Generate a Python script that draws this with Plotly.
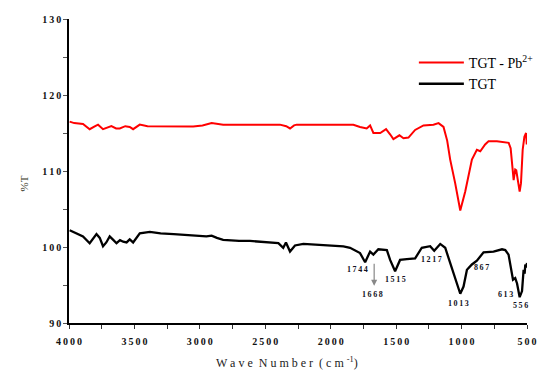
import plotly.graph_objects as go

# ---- data ----
pb_wn = [3995, 3960, 3893, 3842, 3800, 3778, 3740, 3676, 3640, 3612, 3570, 3536, 3510, 3459,
         3400, 3255, 3150, 3051, 2980, 2910, 2822, 2700, 2500, 2388, 2340, 2311, 2280, 2260,
         2100, 1900, 1827, 1776, 1725, 1699, 1674, 1622, 1577, 1545, 1521, 1475, 1444, 1406,
         1355, 1291, 1215, 1176, 1138, 1110, 1087, 1049, 1010, 972, 940, 921, 883, 857, 820,
         794, 730, 679, 640, 625, 615, 602, 590, 582, 572, 556, 546, 533, 520, 507, 502]
pb_t = [116.5, 116.3, 116.2, 115.5, 115.9, 116.1, 115.5, 115.9, 115.6, 115.6, 115.9, 115.8, 115.5, 116.1,
        115.9, 115.85, 115.8, 115.85, 116.0, 116.3, 116.1, 116.1, 116.1, 116.1, 115.9, 115.6, 116.0, 116.1,
        116.1, 116.1, 116.07, 115.8, 115.6, 116.0, 115.0, 115.0, 115.5, 114.8, 114.2, 114.7, 114.3, 114.4,
        115.4, 116.0, 116.1, 116.3, 115.8, 114.0, 111.5, 108.4, 104.8, 107.3, 110.0, 111.5, 112.8, 112.6, 113.5,
        113.9, 113.9, 113.8, 113.7, 113.0, 110.6, 108.8, 110.2, 110.1, 109.0, 107.3, 108.4, 112.8, 114.5, 115.0, 113.5]

tgt_wn = [3995, 3943, 3893, 3842, 3810, 3790, 3765, 3740, 3715, 3689, 3660, 3637, 3610, 3586, 3560,
          3536, 3510, 3480, 3459, 3382, 3300, 3200, 3127, 3050, 2950, 2910, 2870, 2822, 2700, 2617,
          2500, 2400, 2363, 2342, 2311, 2273, 2209, 2100, 2005, 1903, 1852, 1801, 1776, 1737, 1699,
          1674, 1636, 1571, 1546, 1508, 1470, 1418, 1355, 1304, 1240, 1209, 1163, 1125, 1087, 1049,
          1010, 985, 959, 921, 883, 832, 756, 691, 666, 641, 607, 590, 576, 556, 538, 526, 518, 513, 505, 500]
tgt_t = [102.2, 101.8, 101.4, 100.5, 101.2, 101.7, 101.2, 100.1, 100.6, 101.4, 100.9, 100.5, 100.9, 100.7, 100.6,
         101.0, 100.6, 101.3, 101.8, 102.0, 101.8, 101.7, 101.6, 101.5, 101.4, 101.5, 101.2, 100.95, 100.8, 100.8,
         100.6, 100.5, 99.9, 100.6, 99.4, 100.2, 100.4, 100.3, 100.2, 100.07, 99.9, 99.5, 99.2, 98.0, 99.4,
         99.0, 99.7, 99.6, 98.3, 96.8, 98.3, 98.4, 98.5, 99.9, 100.1, 99.5, 100.4, 99.9, 97.9, 95.7,
         93.85, 94.8, 97.0, 97.7, 98.2, 99.3, 99.4, 99.7, 99.6, 99.0, 95.7, 95.9, 95.2, 93.4, 94.2, 97.0, 96.5, 97.7, 97.3, 97.9]

series_names = ["TGT - Pb<sup>2+</sup>", "TGT"]

x_tick_vals = [4000, 3500, 3000, 2500, 2000, 1500, 1000, 500]
x_tick_text = ["4000", "3500", "3000", "2500", "2000", "1500", "1000", "500"]
y_tick_vals = [90, 100, 110, 120, 130]
y_tick_text = ["90", "100", "110", "120", "130"]

peak_labels = ["1744", "1668", "1515", "1217", "1013", "867", "613", "556"]

SP = "\u2009"  # thin space, to mimic the wide letter spacing of the original


def spaced(s):
    return SP.join(list(s))


# ---- figure ----
fig = go.Figure()
fig.add_trace(go.Scatter(x=pb_wn, y=pb_t, mode="lines", name=series_names[0],
                         line=dict(color="#ff0000", width=2)))
fig.add_trace(go.Scatter(x=tgt_wn, y=tgt_t, mode="lines", name=series_names[1],
                         line=dict(color="#000000", width=2.3)))

label_pos = [(1796, 97.0), (1684, 93.72), (1508, 95.78), (1227, 98.41),
             (1023, 92.63), (844, 97.36), (666, 93.72), (551, 92.36)]
for txt, (xx, yy) in zip(peak_labels, label_pos):
    fig.add_annotation(x=xx, y=yy, text=spaced(txt), showarrow=False,
                       font=dict(family="Liberation Serif", size=8, color="#111122", weight="bold"))

# arrow pointing down at 1668
fig.add_annotation(x=1668, y=94.9, ax=1668, ay=98.0, axref="x", ayref="y",
                   text="", showarrow=True, arrowhead=2, arrowsize=1, arrowwidth=1.2,
                   arrowcolor="#888888")

# axis titles
fig.add_annotation(xref="paper", yref="paper", x=-0.115, y=0.46, text="%T",
                   textangle=-90, showarrow=False,
                   font=dict(family="Liberation Serif", size=11, color="#333322"))
fig.add_annotation(xref="paper", yref="paper", x=0.475, y=-0.13, yanchor="middle",
                   text="W a v e  N u m b e r  ( c m <sup>-1</sup>)", showarrow=False,
                   font=dict(family="Liberation Serif", size=12, color="#222222"))

fig.update_layout(
    width=542, height=370,
    margin=dict(l=69, r=15, t=19, b=47, autoexpand=False),
    paper_bgcolor="white", plot_bgcolor="white",
    showlegend=True,
    legend=dict(x=0.753, y=0.908, xanchor="left", yanchor="top",
                bgcolor="rgba(0,0,0,0)", borderwidth=0,
                font=dict(family="Liberation Serif", size=14, color="#000000"),
                itemwidth=45, tracegroupgap=0),
    xaxis=dict(range=[4000, 500], tickvals=x_tick_vals, ticktext=[spaced(t) for t in x_tick_text],
               showgrid=False, zeroline=False, showline=True, linecolor="#000000", linewidth=1.5,
               ticks="outside", ticklen=4, tickcolor="#333333", tickwidth=1.2,
               minor=dict(dtick=250, ticks="outside", ticklen=4, tickcolor="#333333", tickwidth=1.2),
               tickfont=dict(family="Liberation Sans Narrow", size=10, color="#111111", weight="bold"),
               ticklabelstandoff=4),
    yaxis=dict(range=[90, 130], tickvals=y_tick_vals, ticktext=[spaced(t) for t in y_tick_text],
               showgrid=False, zeroline=False, showline=True, linecolor="#000000", linewidth=1.5,
               ticks="outside", ticklen=4, tickcolor="#555555", tickwidth=1.2,
               minor=dict(dtick=5, ticks="outside", ticklen=4, tickcolor="#555555", tickwidth=1.2),
               tickfont=dict(family="Liberation Sans Narrow", size=10, color="#111111", weight="bold")),
)

fig.write_html("out.html")
